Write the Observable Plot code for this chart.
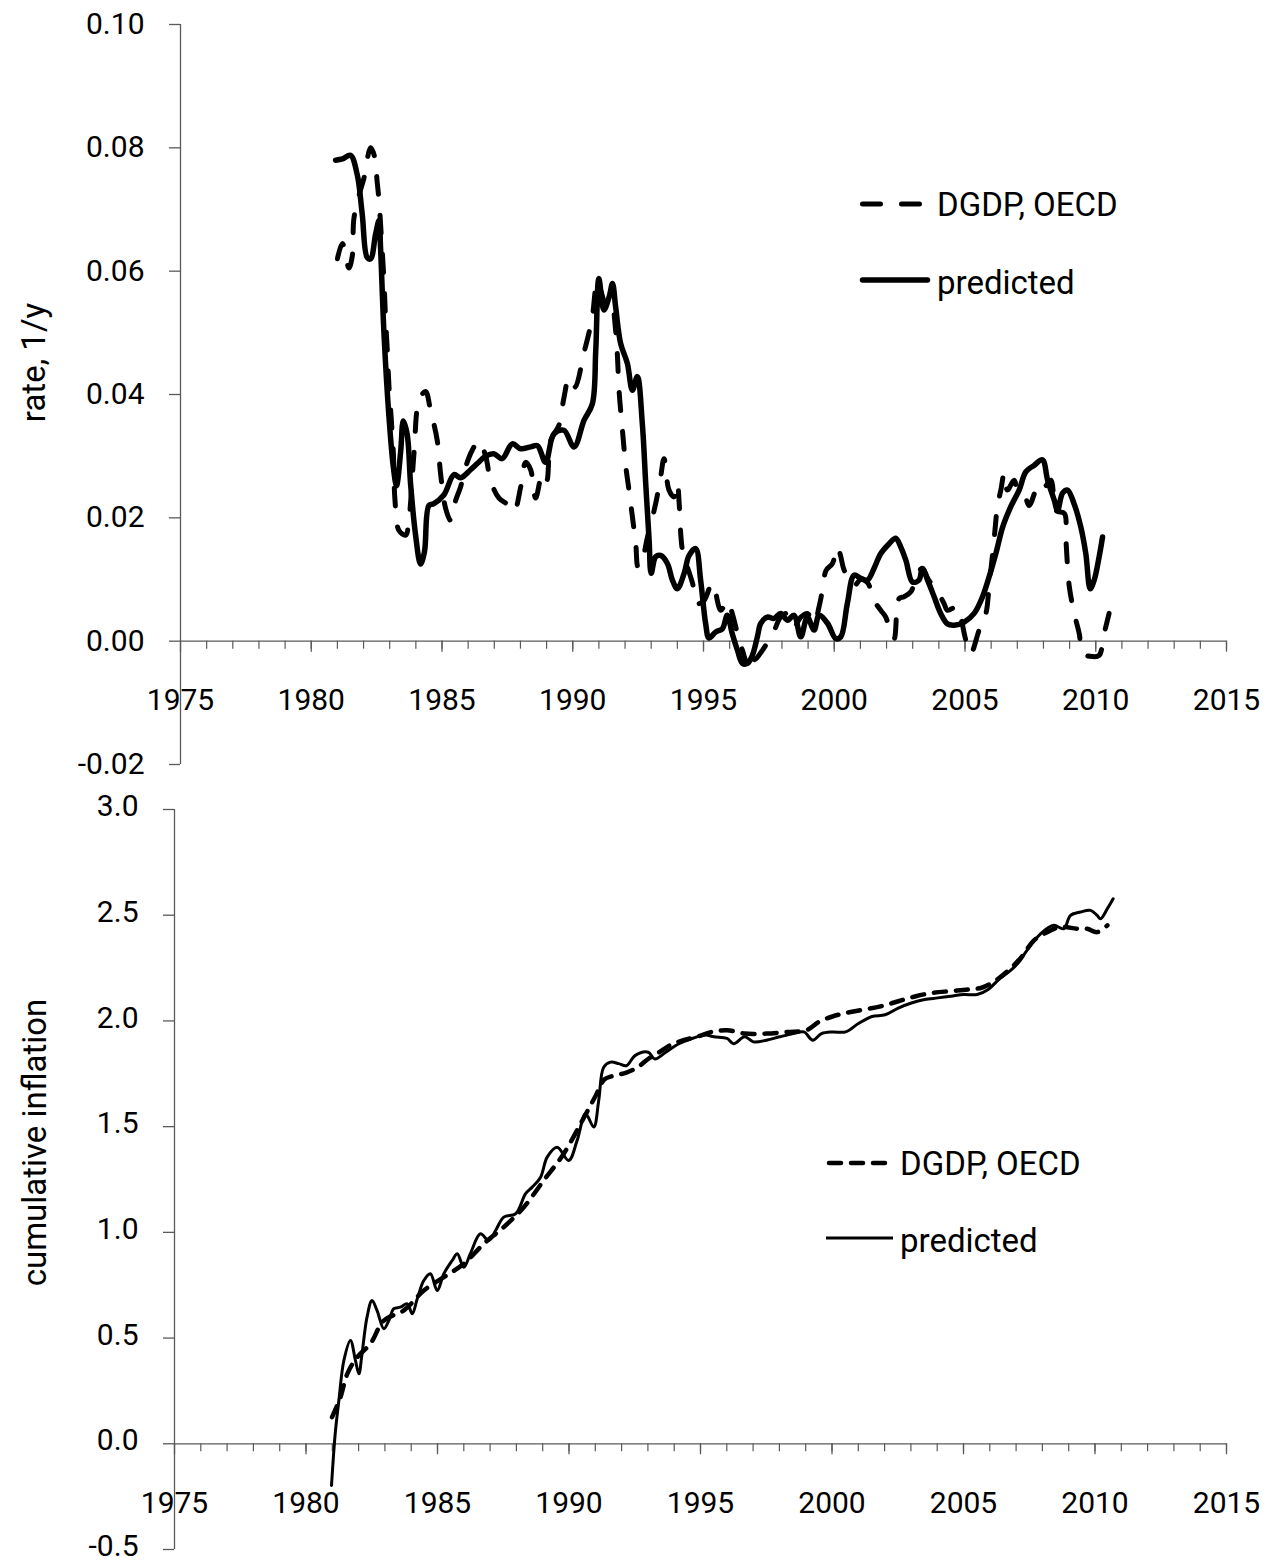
<!DOCTYPE html>
<html><head><meta charset="utf-8">
<script src="https://cdn.jsdelivr.net/npm/d3@7"></script>
<script src="https://cdn.jsdelivr.net/npm/@observablehq/plot@0.6"></script>
<style>
body{margin:0;background:#fff;width:1279px;height:1564px;overflow:hidden;position:relative;font-family:Roboto,sans-serif}
#top,#bot{position:absolute;left:0}
#top{top:0}
#bot{top:787px}
#top svg,#bot svg{overflow:visible}
.leg{position:absolute;left:0;top:0;pointer-events:none}
</style></head><body><div id="top"></div><div id="bot"></div>
<svg class="leg" width="1279" height="1564" id="legend"></svg>
<script>
// ---- top panel: rate, 1/y ----
const rateDgdpYears = [1981.00,1981.19,1981.44,1981.57,1981.63,1981.82,1982.01,1982.27,1982.42,1982.52,1982.59,1982.66,1982.78,1982.84,1982.91,1982.97,1983.06,1983.14,1983.20,1983.35,1983.61,1983.73,1983.93,1984.12,1984.37,1984.56,1984.82,1984.95,1985.14,1985.33,1985.52,1985.71,1985.90,1986.16,1986.41,1986.67,1986.86,1987.18,1987.50,1987.75,1988.01,1988.20,1988.39,1988.58,1988.84,1989.00,1989.16,1989.47,1989.66,1989.86,1990.08,1990.43,1990.62,1990.75,1990.94,1991.07,1991.26,1991.45,1991.64,1991.71,1991.77,1991.90,1992.03,1992.15,1992.28,1992.41,1992.50,1992.60,1992.86,1993.17,1993.36,1993.49,1993.68,1993.87,1994.00,1994.07,1994.13,1994.20,1994.58,1994.77,1995.02,1995.34,1995.66,1995.91,1996.10,1996.30,1996.49,1996.68,1996.87,1996.95,1997.25,1997.51,1997.64,1997.95,1998.21,1998.46,1998.72,1998.97,1999.23,1999.42,1999.55,1999.69,1999.93,2000.13,2000.25,2000.38,2000.76,2001.01,2001.27,2001.52,2001.78,2001.97,2002.16,2002.29,2002.48,2002.67,2002.93,2003.18,2003.37,2003.60,2003.95,2004.20,2004.33,2004.71,2004.84,2005.03,2005.22,2005.54,2005.80,2005.92,2006.11,2006.24,2006.37,2006.50,2006.62,2006.88,2007.01,2007.26,2007.45,2007.84,2008.03,2008.29,2008.48,2008.80,2008.86,2008.99,2009.18,2009.37,2009.50,2009.88,2010.13,2010.32,2010.51];
const rateDgdp = [0.0620,0.0645,0.0605,0.0625,0.0685,0.0722,0.0750,0.0800,0.0786,0.0745,0.0715,0.0670,0.0585,0.0525,0.0470,0.0415,0.0360,0.0305,0.0230,0.0180,0.0172,0.0195,0.0305,0.0390,0.0405,0.0375,0.0325,0.0270,0.0215,0.0196,0.0228,0.0250,0.0282,0.0310,0.0325,0.0300,0.0260,0.0232,0.0222,0.0210,0.0250,0.0290,0.0278,0.0232,0.0272,0.0260,0.0326,0.0350,0.0394,0.0427,0.0412,0.0468,0.0500,0.0526,0.0586,0.0569,0.0548,0.0553,0.0504,0.0461,0.0407,0.0342,0.0283,0.0245,0.0202,0.0158,0.0120,0.0123,0.0169,0.0223,0.0266,0.0296,0.0245,0.0234,0.0256,0.0223,0.0174,0.0147,0.0094,0.0061,0.0066,0.0094,0.0050,0.0066,0.0045,0.0012,-0.0015,-0.0036,-0.0015,-0.0030,-0.0015,0.0002,0.0010,0.0039,0.0045,0.0023,0.0039,0.0045,0.0029,0.0056,0.0083,0.0115,0.0126,0.0153,0.0137,0.0115,0.0090,0.0100,0.0095,0.0066,0.0050,0.0039,0.0012,0.0004,0.0069,0.0072,0.0080,0.0110,0.0118,0.0100,0.0080,0.0061,0.0050,0.0056,0.0039,0.0002,-0.0020,0.0018,0.0045,0.0088,0.0164,0.0218,0.0245,0.0272,0.0245,0.0261,0.0245,0.0239,0.0220,0.0256,0.0250,0.0261,0.0212,0.0207,0.0164,0.0088,0.0045,0.0012,-0.0020,-0.0025,-0.0023,0.0012,0.0045];
const ratePredYears = [1980.93,1981.20,1981.50,1981.76,1981.95,1982.14,1982.27,1982.46,1982.59,1982.65,1982.78,1982.97,1983.14,1983.26,1983.42,1983.52,1983.67,1983.80,1983.99,1984.18,1984.33,1984.50,1984.69,1985.07,1985.46,1985.71,1986.09,1986.35,1986.67,1986.98,1987.30,1987.69,1988.01,1988.39,1988.65,1988.96,1989.28,1989.66,1990.05,1990.43,1990.75,1990.88,1991.00,1991.19,1991.39,1991.52,1991.64,1991.83,1992.09,1992.28,1992.47,1992.66,1992.79,1992.92,1993.00,1993.17,1993.36,1993.62,1993.81,1994.00,1994.26,1994.45,1994.70,1994.89,1995.08,1995.21,1995.47,1995.72,1995.91,1996.10,1996.30,1996.49,1996.68,1996.87,1997.06,1997.19,1997.44,1997.70,1997.95,1998.21,1998.46,1998.72,1998.97,1999.23,1999.42,1999.74,2000.06,2000.25,2000.50,2000.76,2001.01,2001.27,2001.52,2001.78,2002.10,2002.35,2002.54,2002.74,2002.99,2003.24,2003.37,2003.57,2003.82,2004.07,2004.33,2004.59,2004.97,2005.35,2005.67,2005.92,2006.18,2006.44,2006.75,2007.07,2007.33,2007.64,2007.96,2008.16,2008.41,2008.54,2008.73,2008.92,2009.17,2009.43,2009.62,2009.79,2009.94,2010.13,2010.26];
const ratePred = [0.0780,0.0782,0.0788,0.0756,0.0692,0.0622,0.0620,0.0660,0.0682,0.0638,0.0500,0.0365,0.0282,0.0252,0.0308,0.0357,0.0335,0.0254,0.0172,0.0125,0.0145,0.0220,0.0223,0.0237,0.0270,0.0265,0.0278,0.0288,0.0300,0.0304,0.0296,0.0320,0.0312,0.0315,0.0317,0.0290,0.0336,0.0342,0.0315,0.0358,0.0385,0.0472,0.0588,0.0537,0.0558,0.0580,0.0542,0.0483,0.0450,0.0407,0.0429,0.0353,0.0256,0.0164,0.0110,0.0137,0.0139,0.0126,0.0099,0.0085,0.0110,0.0139,0.0150,0.0099,0.0029,0.0005,0.0015,0.0020,0.0042,0.0012,-0.0015,-0.0036,-0.0036,-0.0023,0.0007,0.0029,0.0039,0.0037,0.0045,0.0034,0.0042,0.0007,0.0039,0.0018,0.0042,0.0029,0.0004,0.0007,0.0061,0.0107,0.0102,0.0099,0.0118,0.0142,0.0158,0.0167,0.0153,0.0131,0.0096,0.0099,0.0118,0.0099,0.0072,0.0045,0.0028,0.0026,0.0031,0.0045,0.0072,0.0104,0.0142,0.0185,0.0218,0.0245,0.0275,0.0285,0.0294,0.0261,0.0229,0.0212,0.0240,0.0245,0.0223,0.0185,0.0142,0.0085,0.0099,0.0137,0.0169];

// ---- bottom panel: cumulative inflation ----
const cumDgdpYears = [1980.99,1981.31,1981.57,1981.95,1982.45,1982.96,1983.72,1984.48,1985.24,1986.00,1986.76,1987.52,1988.28,1989.04,1989.80,1990.51,1991.01,1991.35,1991.68,1992.18,1992.60,1993.01,1993.43,1993.84,1994.35,1994.85,1995.43,1996.01,1996.68,1997.51,1998.35,1999.02,1999.52,2000.02,2000.52,2001.18,2001.85,2002.52,2003.19,2003.85,2004.52,2005.19,2005.69,2006.19,2006.69,2007.19,2007.67,2008.18,2008.69,2009.32,2009.70,2010.08,2010.47];
const cumDgdp = [0.126,0.220,0.331,0.410,0.473,0.583,0.631,0.725,0.788,0.851,0.946,1.025,1.119,1.246,1.372,1.530,1.645,1.724,1.740,1.756,1.780,1.820,1.852,1.885,1.909,1.925,1.948,1.956,1.940,1.940,1.948,1.956,1.997,2.021,2.037,2.053,2.069,2.093,2.117,2.133,2.141,2.149,2.157,2.189,2.237,2.300,2.380,2.420,2.444,2.436,2.436,2.420,2.452];
const cumPredYears = [1980.97,1981.11,1981.25,1981.44,1981.69,1981.88,1982.01,1982.13,1982.32,1982.51,1982.70,1982.96,1983.15,1983.34,1983.59,1983.85,1984.04,1984.23,1984.48,1984.73,1984.99,1985.24,1985.56,1985.75,1986.00,1986.25,1986.63,1986.95,1987.21,1987.52,1987.97,1988.35,1988.60,1988.92,1989.17,1989.55,1989.99,1990.31,1990.63,1990.94,1991.13,1991.32,1991.58,1991.89,1992.18,1992.51,1993.01,1993.26,1993.68,1994.18,1994.68,1995.18,1995.51,1996.01,1996.26,1996.68,1997.01,1997.51,1998.01,1998.52,1998.93,1999.27,1999.60,2000.02,2000.52,2001.02,2001.52,2002.02,2002.52,2003.02,2003.52,2004.02,2004.52,2005.02,2005.52,2005.94,2006.35,2006.77,2007.10,2007.42,2007.93,2008.43,2008.81,2009.07,2009.45,2009.83,2010.08,2010.21,2010.47,2010.69];
const cumPred = [-0.197,0.047,0.205,0.394,0.489,0.394,0.331,0.426,0.599,0.678,0.631,0.544,0.583,0.639,0.646,0.662,0.615,0.686,0.772,0.804,0.725,0.804,0.867,0.899,0.835,0.899,0.993,0.962,1.009,1.072,1.088,1.183,1.214,1.261,1.356,1.403,1.340,1.435,1.561,1.498,1.624,1.781,1.805,1.798,1.788,1.836,1.852,1.820,1.852,1.892,1.917,1.933,1.925,1.917,1.892,1.925,1.901,1.909,1.925,1.940,1.948,1.909,1.940,1.948,1.948,1.989,2.021,2.029,2.061,2.085,2.101,2.109,2.117,2.125,2.125,2.149,2.197,2.237,2.277,2.335,2.412,2.452,2.436,2.499,2.515,2.523,2.499,2.483,2.531,2.578];

const rateTicks = [-0.02,0.00,0.02,0.04,0.06,0.08,0.10];
const cumTicks = [-0.5,0.0,0.5,1.0,1.5,2.0,2.5,3.0];
const yearsMinor = d3.range(1976, 2016);
const yearsMajor = [1975,1980,1985,1990,1995,2000,2005,2010,2015];
const seriesNames = ["DGDP, OECD", "predicted"];
const titles = ["rate, 1/y", "cumulative inflation"];

const zip = (xs, ys) => xs.map((x, i) => ({x, y: ys[i]}));
const AX = "#5a5a5a";

function panel({height, mt, mb, ml, mr, yDomain, yTicks, fmt, ylDy, dgdp, pred, dash, dashW, predW, title, titleDx, titleDy, labelDy}) {
  return Plot.plot({
    width: 1279, height,
    marginTop: mt, marginBottom: mb, marginLeft: ml, marginRight: mr,
    style: {fontFamily: "Roboto, sans-serif", background: "white", color: "black", overflow: "visible"},
    x: {domain: [1975, 2015], axis: null},
    y: {domain: yDomain, axis: null},
    marks: [
      Plot.ruleX([1975], {stroke: AX, strokeWidth: 1.3}),
      Plot.ruleY([0], {stroke: AX, strokeWidth: 1.3}),
      Plot.ruleY(yTicks, {y: d => d, x1: () => 1975, x2: () => 1975, insetLeft: -11, stroke: AX, strokeWidth: 1.3}),
      Plot.ruleX(yearsMinor, {x: d => d, y1: () => 0, y2: () => 0, insetBottom: -8, stroke: AX, strokeWidth: 1.2}),
      Plot.ruleX(yearsMajor, {x: d => d, y1: () => 0, y2: () => 0, insetBottom: -11, stroke: AX, strokeWidth: 1.3}),
      Plot.text(yTicks, {y: d => d, frameAnchor: "left", dx: -36, dy: ylDy, textAnchor: "end", lineAnchor: "middle", text: fmt, fontSize: 30, fill: "black"}),
      Plot.text(yearsMajor, {x: d => d, y: () => 0, dy: labelDy, textAnchor: "middle", lineAnchor: "middle", text: d => String(d), fontSize: 30, fill: "black"}),
      Plot.text([title], {frameAnchor: "left", dx: titleDx, dy: titleDy, rotate: -90, textAnchor: "middle", lineAnchor: "middle", text: d => d, fontSize: 33, fill: "black"}),
      Plot.line(dgdp, {x: "x", y: "y", curve: "catmull-rom", stroke: "black", strokeWidth: dashW, strokeDasharray: dash, strokeLinecap: "round", strokeLinejoin: "round"}),
      Plot.line(pred, {x: "x", y: "y", curve: "catmull-rom", stroke: "black", strokeWidth: predW, strokeLinejoin: "round"})
    ]
  });
}

document.getElementById("top").append(panel({
  height: 787, mt: 24, mb: 23, ml: 180, mr: 53,
  yDomain: [-0.02, 0.10], yTicks: rateTicks, fmt: d => d.toFixed(2), ylDy: 0,
  dgdp: zip(rateDgdpYears, rateDgdp), pred: zip(ratePredYears, ratePred),
  dash: "18,21", dashW: 5, predW: 5.5,
  title: titles[0], titleDx: -146, titleDy: -32, labelDy: 59
}));

document.getElementById("bot").append(panel({
  height: 777, mt: 22, mb: 15, ml: 174, mr: 53,
  yDomain: [-0.5, 3.0], yTicks: cumTicks, fmt: d => d.toFixed(1), ylDy: -3,
  dgdp: zip(cumDgdpYears, cumDgdp), pred: zip(cumPredYears, cumPred),
  dash: "12,10", dashW: 4.5, predW: 3,
  title: titles[1], titleDx: -139, titleDy: -37, labelDy: 60
}));

// legends
const leg = d3.select("#legend");
function legendItem(x1, x2, y, tx, ty, w, dash, cap, label) {
  leg.append("line").attr("x1", x1).attr("x2", x2).attr("y1", y).attr("y2", y)
    .attr("stroke", "black").attr("stroke-width", w)
    .attr("stroke-dasharray", dash).attr("stroke-linecap", cap);
  leg.append("text").attr("x", tx).attr("y", ty).attr("dominant-baseline", "central")
    .attr("font-family", "Roboto, sans-serif").attr("font-size", 33).attr("fill", "black").text(label);
}
legendItem(862.5, 922, 204, 937, 204, 5, "18,21", "round", seriesNames[0]);
legendItem(862.5, 927.5, 280, 937, 282, 5.5, null, "round", seriesNames[1]);
legendItem(829, 886, 1163, 900, 1163, 4.5, "12,10", "round", seriesNames[0]);
legendItem(826, 893, 1238, 900, 1240, 3, null, "butt", seriesNames[1]);
</script>
</body></html>
